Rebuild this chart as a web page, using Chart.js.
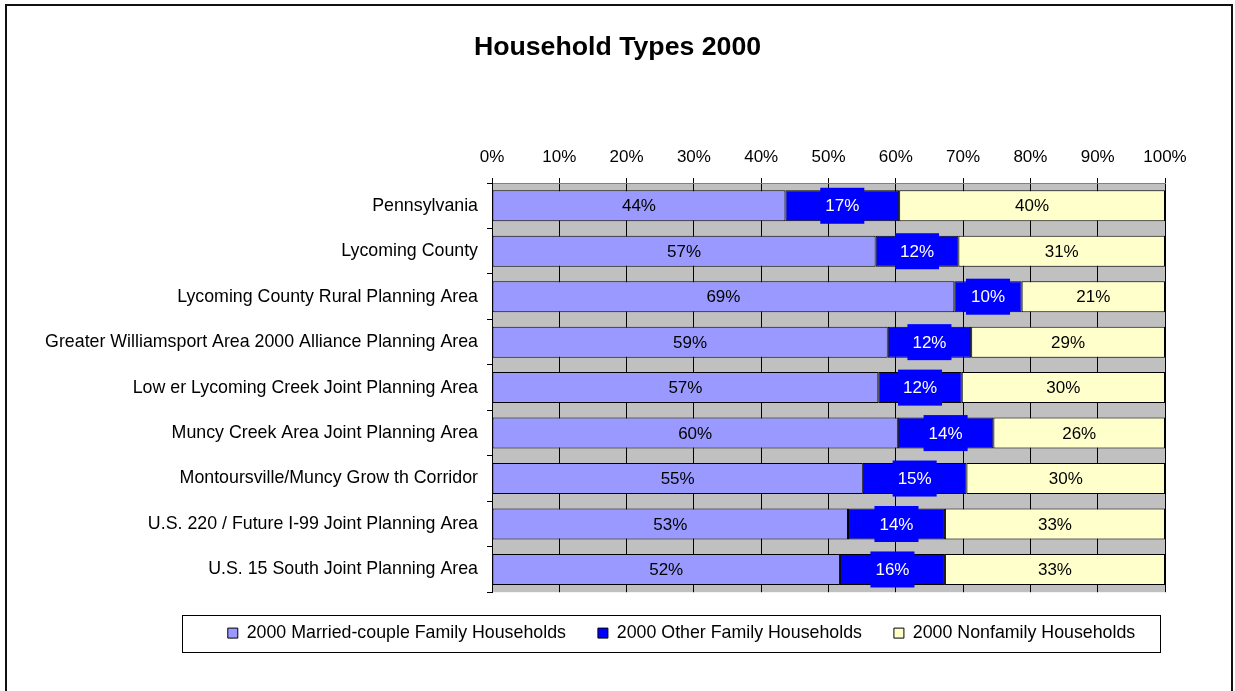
<!DOCTYPE html>
<html>
<head>
<meta charset="utf-8">
<title>Household Types 2000</title>
<script src="https://cdn.jsdelivr.net/npm/chart.js@4.4.1/dist/chart.umd.min.js"></script>
<style>
  html, body { margin: 0; padding: 0; background: #fff; overflow: hidden; }
  #wrap { position: relative; width: 1235px; height: 691px; }
  #frame {
    position: absolute; left: 5px; top: 4px; width: 1228px; height: 720px;
    border: 2px solid #111; pointer-events: none; box-sizing: border-box;
  }
  canvas { position: absolute; left: 0; top: 0; }
</style>
</head>
<body>
<div id="wrap">
  <canvas id="chart" width="1235" height="691"></canvas>
  <div id="frame"></div>
</div>
<script>
// Planning areas, top to bottom
const categories = [
  'Pennsylvania',
  'Lycoming County',
  'Lycoming County Rural Planning Area',
  'Greater Williamsport Area 2000 Alliance Planning Area',
  'Low er Lycoming Creek Joint Planning Area',
  'Muncy Creek Area Joint Planning Area',
  'Montoursville/Muncy Grow th Corridor',
  'U.S. 220 / Future I-99 Joint Planning Area',
  'U.S. 15 South Joint Planning Area'
];

// Share of households (percent of all households in each area)
const marriedCouple = [43.6, 57.0, 68.7, 58.8, 57.4, 60.3, 55.1, 52.9, 51.7];
const otherFamily   = [16.9, 12.3, 10.0, 12.4, 12.4, 14.2, 15.4, 14.4, 15.6];
const nonfamily     = [39.5, 30.7, 21.3, 28.8, 30.2, 25.5, 29.5, 32.7, 32.7];

const seriesNames = [
  '2000 Married-couple Family Households',
  '2000 Other Family Households',
  '2000 Nonfamily Households'
];

const tickValues = [0, 10, 20, 30, 40, 50, 60, 70, 80, 90, 100];

const FONT = '"Liberation Sans", Arial, sans-serif';
const TEXT_SIZE = 17.8;

// Grey plot area behind the bars
const plotBackground = {
  id: 'plotBackground',
  beforeDraw(chart) {
    const { ctx, chartArea: a } = chart;
    ctx.save();
    ctx.fillStyle = '#C0C0C0';
    ctx.fillRect(a.left, a.top, a.right - a.left, a.bottom - a.top);
    ctx.restore();
  }
};

// Percentage labels centred in each segment
const segmentLabels = {
  id: 'segmentLabels',
  afterDatasetsDraw(chart) {
    const ctx = chart.ctx;
    ctx.save();
    ctx.font = '17px ' + FONT;
    ctx.textAlign = 'center';
    ctx.textBaseline = 'middle';
    chart.data.datasets.forEach((ds, i) => {
      const meta = chart.getDatasetMeta(i);
      meta.data.forEach((el, j) => {
        const text = Math.round(ds.data[j]) + '%';
        const cx = (el.x + el.base) / 2;
        const cy = el.y;
        if (i === 1) {
          const w = ctx.measureText(text).width + 10;
          const h = el.height + 5;
          ctx.fillStyle = '#0000FF';
          ctx.fillRect(cx - w / 2, cy - h / 2, w, h);
          ctx.fillStyle = '#FFFFFF';
        } else {
          ctx.fillStyle = '#000000';
        }
        ctx.fillText(text, cx, cy + 1);
      });
    });
    ctx.restore();
  }
};

// Shift the legend row and draw its outline
const LEGEND_SHIFT = 64;
const legendFrame = {
  id: 'legendFrame',
  afterLayout(chart) {
    const lg = chart.legend;
    if (lg) { lg.left += LEGEND_SHIFT; lg.right += LEGEND_SHIFT; }
  },
  afterDraw(chart) {
    const lg = chart.legend;
    if (!lg || !lg.legendHitBoxes.length) return;
    const boxes = lg.legendHitBoxes;
    const left = Math.min(...boxes.map(b => b.left)) - 46;
    const right = Math.max(...boxes.map(b => b.left + b.width)) + 25;
    const cy = boxes[0].top + boxes[0].height / 2;
    const ctx = chart.ctx;
    ctx.save();
    ctx.strokeStyle = '#000';
    ctx.lineWidth = 1;
    ctx.strokeRect(Math.round(left) + 0.5, Math.round(cy - 18) + 0.5, Math.round(right - left), 37);
    ctx.restore();
  }
};

const mkSet = (label, data, color) => ({
  label, data,
  backgroundColor: color,
  borderColor: '#000000',
  borderWidth: 1,
  borderSkipped: false,
  barPercentage: 0.682,
  categoryPercentage: 1.0
});

new Chart(document.getElementById('chart'), {
  type: 'bar',
  data: {
    labels: categories,
    datasets: [
      mkSet(seriesNames[0], marriedCouple, '#9999FF'),
      mkSet(seriesNames[1], otherFamily, '#0000FF'),
      mkSet(seriesNames[2], nonfamily, '#FFFFCC')
    ]
  },
  options: {
    indexAxis: 'y',
    responsive: false,
    animation: false,
    devicePixelRatio: 1,
    layout: { padding: { left: 0, right: 0, top: 0, bottom: 39 } },
    font: { family: FONT },
    plugins: {
      title: {
        display: true,
        text: 'Household Types 2000',
        color: '#000',
        font: { family: FONT, size: 26.7, weight: 'bold' },
        padding: { top: 32, bottom: 10 }
      },
      legend: {
        display: true,
        position: 'bottom',
        labels: {
          color: '#000',
          font: { family: FONT, size: TEXT_SIZE },
          boxWidth: 10,
          boxHeight: 10,
          padding: 32
        }
      },
      tooltip: { enabled: false }
    },
    scales: {
      x: {
        position: 'top',
        stacked: true,
        min: 0,
        max: 100,
        afterBuildTicks(scale) { scale.ticks = tickValues.map(v => ({ value: v })); },
        afterFit(scale) { scale.height = 109; },
        ticks: {
          color: '#000',
          font: { family: FONT, size: 17 },
          padding: 11,
          callback: v => v + '%'
        },
        grid: {
          color: '#000',
          lineWidth: 1,
          tickLength: 5,
          drawOnChartArea: true
        },
        border: { display: true, color: '#808080', width: 1 }
      },
      y: {
        stacked: true,
        afterFit(scale) { scale.width = 492; },
        ticks: {
          color: '#000',
          font: { family: FONT, size: TEXT_SIZE },
          padding: 9,
          autoSkip: false
        },
        grid: {
          color: '#000',
          offset: true,
          drawOnChartArea: false,
          tickLength: 5
        },
        border: { display: true, color: '#000', width: 1 }
      },
      // empty margin on the right so the title sits over the whole page
      rightMargin: {
        type: 'category',
        axis: 'y',
        position: 'right',
        display: true,
        afterFit(scale) { scale.width = 70; },
        ticks: { display: false },
        grid: { display: false, drawTicks: false },
        border: { display: false }
      }
    }
  },
  plugins: [plotBackground, segmentLabels, legendFrame]
});
</script>
</body>
</html>
